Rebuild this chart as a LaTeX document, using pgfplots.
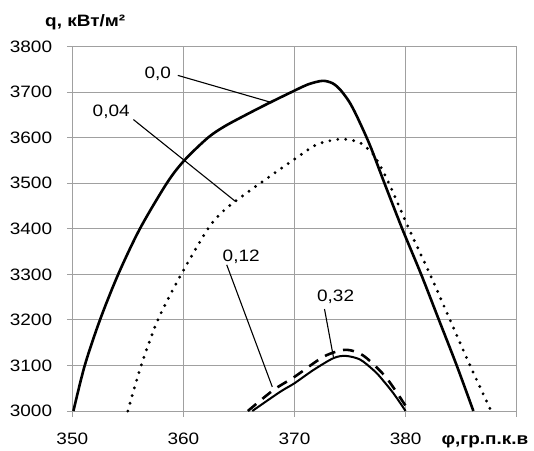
\documentclass[border=0pt]{standalone}
\usepackage{fontspec}
\setmainfont{Liberation Sans}[FakeStretch=1.15]
\usepackage{pgfplots}
\pgfplotsset{compat=1.18}
\definecolor{gridgray}{RGB}{160,160,160}
\begin{document}
\fontsize{16.5}{19}\selectfont
\begin{tikzpicture}
\begin{axis}[
 scale only axis, width=444.4pt, height=364.3pt,
 xmin=350, xmax=390, ymin=3000, ymax=3800,
 xtick={350,360,370,380,390}, xticklabels={350,360,370,380,{}},
 ytick={3000,3100,3200,3300,3400,3500,3600,3700,3800},
 grid=major, grid style={gridgray, line width=0.9pt},
 axis line style={gridgray, line width=0.9pt},
 tick style={gridgray, line width=0.9pt},
 tick align=outside, major tick length=5.5pt,
 xtick pos=left, ytick pos=left,
 /pgf/number format/assume math mode=true,
 /pgf/number format/1000 sep={},
 ticklabel style={font=\fontsize{16.5}{19}\selectfont},
 xticklabel style={anchor=base, yshift=-28pt},
 yticklabel style={anchor=east, xshift=-9pt},
 clip=false,
]
% 0,0
\addplot[black, line width=2.6pt, smooth] coordinates {
(350.1,3000) (351.12,3100) (352.49,3200) (354.13,3300) (356.08,3400) (358.5,3500)
(360.07,3550) (362.2,3600) (363.7,3625) (365.6,3650) (367.6,3675) (369.7,3700)
(371.2,3717) (372.5,3725) (373.4,3720) (374.1,3706) (374.9,3680) (375.6,3648)
(376.8,3583) (378.1,3500) (379.7,3400) (381.4,3300) (383.0,3200) (384.6,3100) (386.1,3000)};
% 0,04
\addplot[black, line width=3.2pt, line cap=round, dash pattern=on 0pt off 8pt, smooth] coordinates {
(355.0,3000) (356.2,3100) (357.7,3200) (359.8,3300) (362.2,3400) (363.5,3437) (364.7,3461)
(366.9,3500) (370,3553) (372,3585) (374.1,3597) (375.6,3592) (376.3,3582)
(377.2,3560) (378.5,3500) (380.3,3400) (382.2,3300) (384,3200) (385.8,3100) (387.7,3000)};
% 0,12
\addplot[black, line width=2.6pt, dash pattern=on 11pt off 8pt, smooth] coordinates {
(365.8,3000) (368.1,3046) (370,3075) (372.6,3119) (374.4,3134) (375.5,3130)
(376.5,3116) (378.3,3072) (380.3,3000)};
% 0,32
\addplot[black, line width=2pt, smooth] coordinates {
(366.2,3000) (368.7,3042) (370,3061) (371.7,3090) (373.5,3116) (374.6,3121)
(375.9,3113) (377.1,3090) (377.7,3075) (378.9,3039) (380,3000)};
% annotations
\draw[black, line width=1.1pt] (axis cs:359.5,3737) -- (axis cs:368.0,3677);
\node[anchor=east, inner sep=0pt] at (axis cs:358.9,3741) {0,0};
\draw[black, line width=1.1pt] (axis cs:355.5,3640) -- (axis cs:364.7,3460);
\node[inner sep=0pt] at (axis cs:353.5,3657) {0,04};
\draw[black, line width=1.1pt] (axis cs:363.9,3321) -- (axis cs:368.0,3053);
\node[inner sep=0pt] at (axis cs:365.2,3339) {0,12};
\draw[black, line width=1.1pt] (axis cs:372.7,3224) -- (axis cs:373.5,3119);
\node[inner sep=0pt] at (axis cs:373.7,3250) {0,32};
\node[anchor=base west, inner sep=0pt, xshift=-27.3pt, yshift=20.7pt, font=\bfseries] at (rel axis cs:0,1) {q, кВт/м²};
\node[anchor=base, inner sep=0pt, xshift=412.6pt, yshift=-33pt, font=\bfseries] at (rel axis cs:0,0) {φ,гр.п.к.в};
\end{axis}
\path (current axis.south west) ++(-72.3pt,-37pt) rectangle ++(534pt,448pt);
\end{tikzpicture}
\end{document}
